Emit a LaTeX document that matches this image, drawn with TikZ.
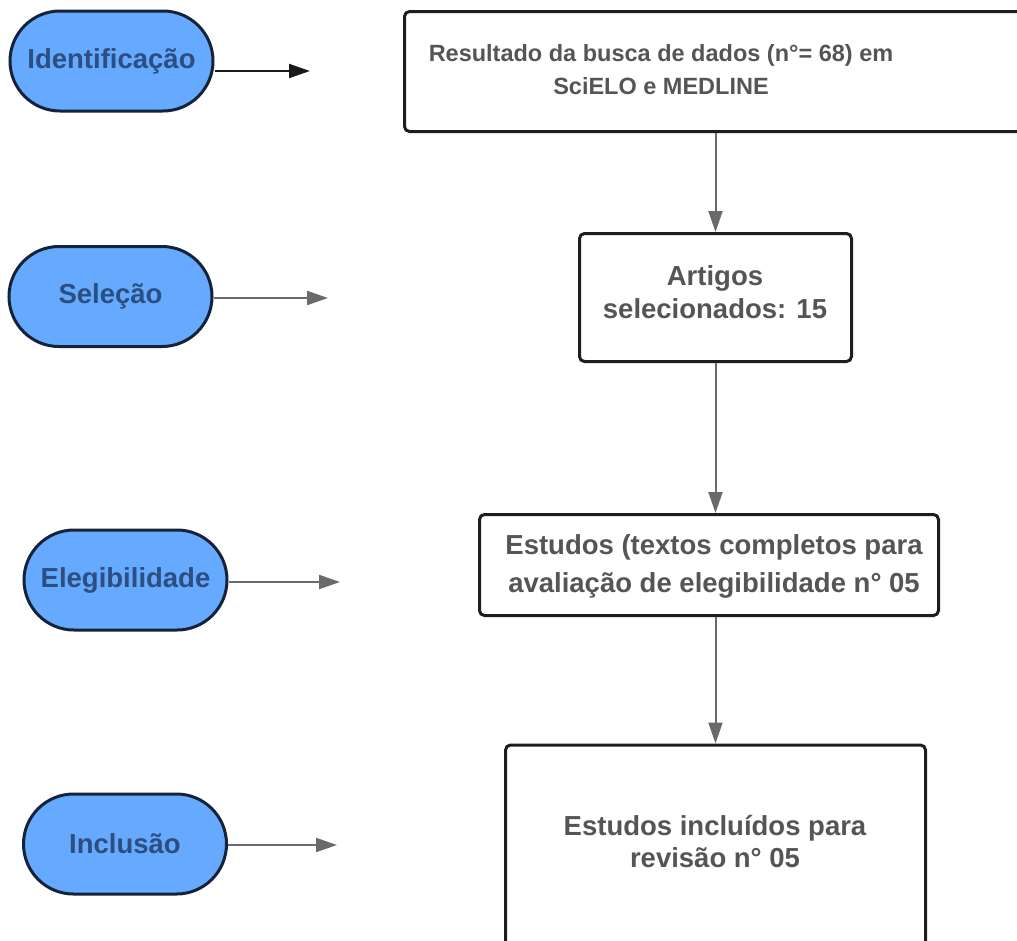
\documentclass[tikz,border=0pt]{standalone}
\usepackage{fontspec}
\setmainfont{Liberation Sans}
\usetikzlibrary{arrows.meta}
\definecolor{pillfill}{HTML}{66AAFF}
\definecolor{pilledge}{HTML}{14233A}
\definecolor{pilltext}{HTML}{2C4E80}
\definecolor{boxtext}{HTML}{555555}
\definecolor{boxedge}{HTML}{1E1E1E}
\definecolor{arrowgray}{HTML}{6A6A6A}

\begin{document}
\begin{tikzpicture}[x=1pt,y=-1pt,
  phase/.style={draw=pilledge, line width=3pt, fill=pillfill,
    rounded corners=50pt, minimum width=203pt, minimum height=100pt,
    inner sep=0pt, text=pilltext,
    font=\fontsize{27.5}{33}\selectfont\bfseries},
  stepbox/.style={draw=boxedge, line width=3pt, fill=white,
    rounded corners=5pt, inner sep=0pt},
  steptext/.style={inner sep=0pt, align=center, text=boxtext,
    font=\fontsize{27.5}{33}\selectfont\bfseries},
  arr/.style={draw=arrowgray, line width=2pt,
    -{Triangle[length=21pt,width=14pt]}},
]
\clip (0,0) rectangle (1017,940);
\fill[white] (0,0) rectangle (1017,940);

% phase labels on the left
\node[phase] (p1) at (111.5,61) {Identificação};
\node[phase] (p2) at (110.5,296.5) {Seleção};
\node[phase] (p3) at (125.5,580) {Elegibilidade};
\node[phase] (p4) at (125,844) {Inclusão};

% arrow end points
\coordinate (e1) at (310,71);
\coordinate (e2) at (328,298);
\coordinate (e3) at (340,582);
\coordinate (e4) at (337,845);

\draw[arr, draw=black!90] (p1.east |- e1) -- (e1);
\draw[arr] (p2.east |- e2) -- (e2);
\draw[arr] (p3.east |- e3) -- (e3);
\draw[arr] (p4.east |- e4) -- (e4);

% flow boxes
\node[stepbox, minimum width=629pt, minimum height=120pt] (b1) at (719,71.5) {};
\node[steptext, font=\fontsize{23.5}{33}\selectfont\bfseries] (t1) at (661,70)
  {Resultado da busca de dados (n°= 68) em\\SciELO e MEDLINE};

\node[stepbox, minimum width=272pt, minimum height=128pt] (b2) at (715.5,297.5) {};
\node[steptext] (t2) at (715,292) {Artigos\\selecionados: 15};

\node[stepbox, minimum width=459pt, minimum height=101pt] (b3) at (709,565) {};
\node[steptext, font=\fontsize{27.5}{38}\selectfont\bfseries] (t3) at (714,566)
  {Estudos (textos completos para\\avaliação de elegibilidade n° 05};

\node[stepbox, minimum width=420pt, minimum height=220pt] (b4) at (715.5,855) {};
\node[steptext, font=\fontsize{27.5}{32}\selectfont\bfseries] (t4) at (715,842)
  {Estudos incluídos para\\revisão n° 05};

% vertical flow
\draw[arr] (b1.south -| b2.north) -- (b2.north);
\draw[arr] (b2.south) -- (b2.south |- b3.north);
\draw[arr] (b3.south -| b4.north) -- (b4.north);
\end{tikzpicture}
\end{document}
